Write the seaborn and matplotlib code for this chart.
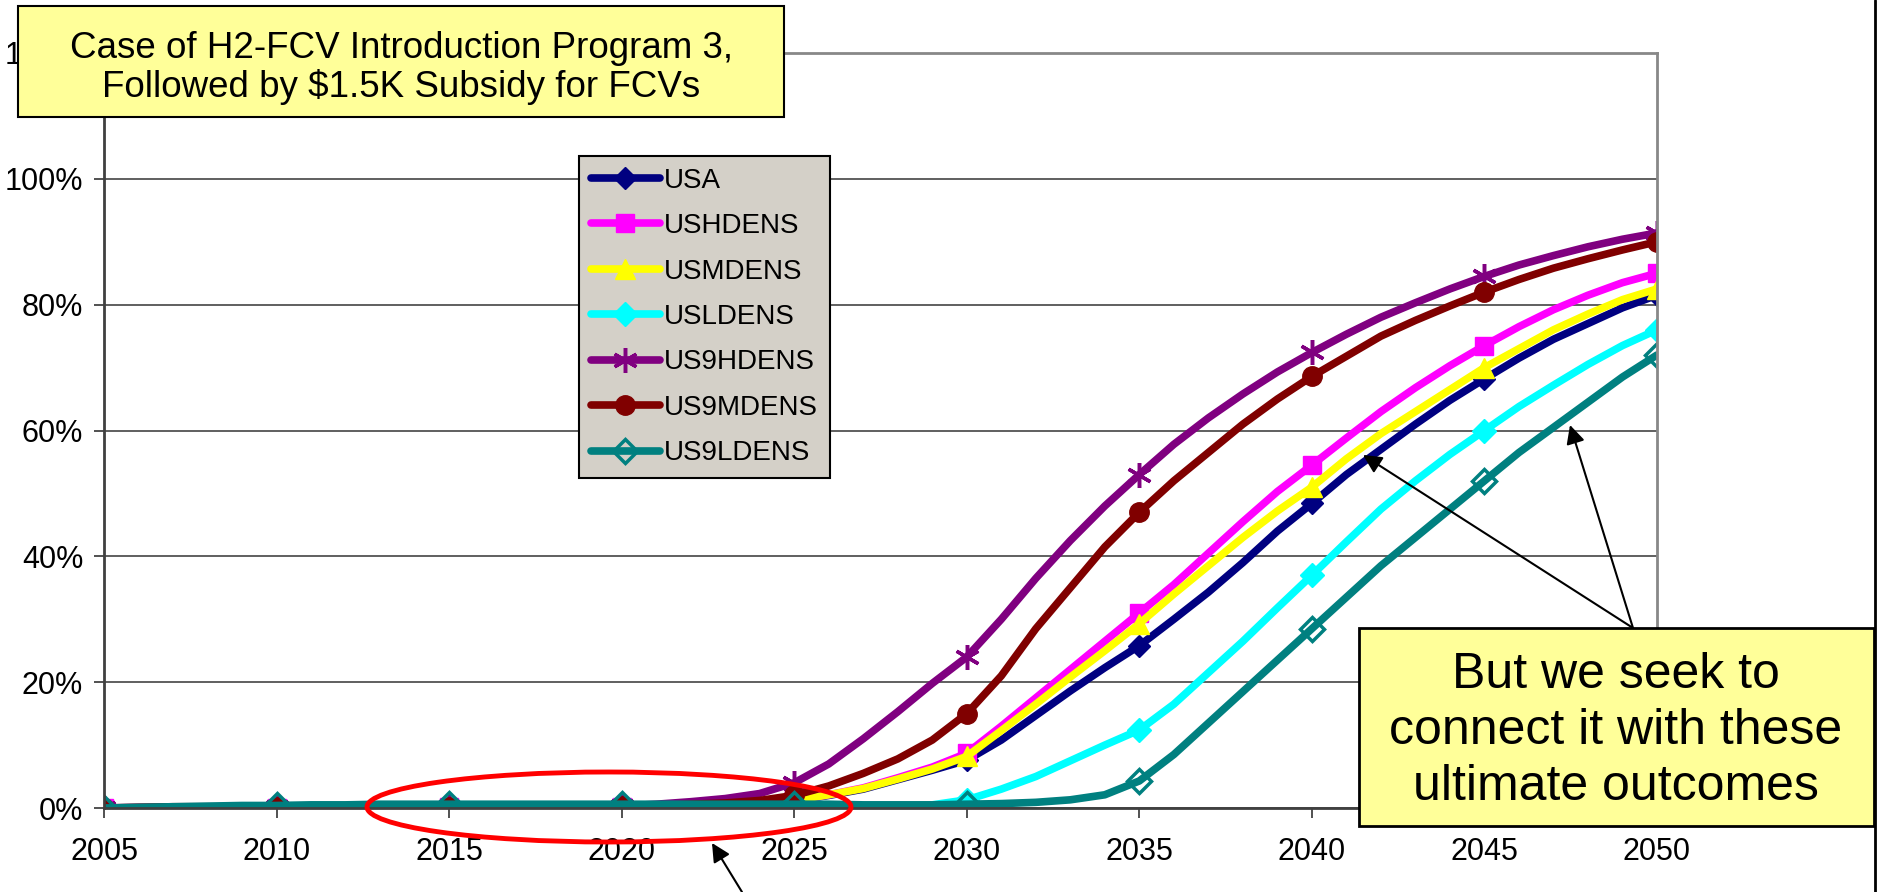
import numpy as np
import pandas as pd
import seaborn as sns
import matplotlib.pyplot as plt
import matplotlib.ticker as ticker
from matplotlib.patches import Rectangle, Ellipse, FancyArrowPatch
from matplotlib.lines import Line2D

# market share of FCVs (%) by year
years = list(range(2005, 2051))

usa = [0, 0, 0, 0, 0, 0, 0, 0.05, 0.1, 0.1, 0.1, 0.1, 0.1, 0.1, 0.1,
       0.1, 0.2, 0.3, 0.5, 0.8, 1.2, 2.0, 3.0, 4.5, 6.0,
       7.6, 10.8, 14.7, 18.6, 22.3, 25.8, 30.0, 34.3, 39.0, 44.0,
       48.4, 53.0, 57.0, 61.0, 64.8, 68.2, 71.5, 74.5, 77.0, 79.5, 81.5]
ushdens = [0, 0, 0, 0, 0, 0, 0, 0.05, 0.1, 0.1, 0.1, 0.1, 0.1, 0.1, 0.1,
           0.1, 0.2, 0.3, 0.5, 0.8, 1.2, 2.1, 3.2, 4.8, 6.5,
           8.7, 13.0, 17.5, 22.0, 26.5, 31.0, 35.5, 40.5, 45.5, 50.3,
           54.5, 58.8, 63.0, 66.8, 70.3, 73.5, 76.5, 79.2, 81.5, 83.5, 85.0]
usmdens = [0, 0, 0, 0, 0, 0, 0, 0.05, 0.1, 0.1, 0.1, 0.1, 0.1, 0.1, 0.1,
           0.1, 0.2, 0.3, 0.5, 0.8, 1.2, 2.1, 3.1, 4.6, 6.2,
           8.2, 12.3, 16.5, 20.8, 25.0, 29.3, 34.0, 38.5, 43.0, 47.2,
           51.0, 55.5, 59.5, 63.0, 66.5, 70.0, 73.0, 76.0, 78.5, 80.8, 82.5]
usldens = [0, 0, 0, 0, 0, 0, 0, 0, 0, 0, 0, 0, 0, 0, 0,
           0, 0, 0, 0, 0.1, 0.2, 0.1, 0.1, 0.2, 0.5,
           1.3, 3.0, 5.0, 7.5, 10.0, 12.4, 16.5, 21.5, 26.5, 31.8,
           37.0, 42.3, 47.5, 52.0, 56.2, 60.0, 63.8, 67.2, 70.5, 73.5, 76.0]
us9hdens = [0, 0.1, 0.1, 0.1, 0.1, 0.1, 0.1, 0.1, 0.1, 0.1, 0.1, 0.0, -0.2, -0.2, 0.0,
            0.3, 0.6, 1.0, 1.5, 2.3, 4.0, 7.0, 11.0, 15.3, 19.8,
            24.0, 30.0, 36.5, 42.5, 48.0, 53.0, 57.8, 62.0, 65.8, 69.3,
            72.4, 75.3, 78.0, 80.3, 82.5, 84.5, 86.3, 87.8, 89.2, 90.4, 91.4]
us9mdens = [0, 0.1, 0.2, 0.2, 0.2, 0.2, 0.2, 0.2, 0.2, 0.2, 0.2, 0.2, 0.2, 0.2, 0.2,
            0.3, 0.4, 0.6, 0.8, 1.2, 2.0, 3.5, 5.5, 7.8, 10.8,
            15.0, 21.0, 28.5, 35.0, 41.5, 47.0, 52.0, 56.5, 61.0, 65.0,
            68.6, 71.8, 75.0, 77.5, 79.8, 82.0, 84.0, 85.8, 87.3, 88.7, 90.0]
us9ldens = [0, 0.1, 0.2, 0.3, 0.4, 0.4, 0.5, 0.5, 0.6, 0.6, 0.6, 0.6, 0.6, 0.6, 0.6,
            0.6, 0.6, 0.6, 0.6, 0.6, 0.6, 0.6, 0.5, 0.5, 0.5,
            0.6, 0.7, 0.9, 1.3, 2.1, 4.3, 8.5, 13.5, 18.5, 23.5,
            28.5, 33.5, 38.5, 43.0, 47.5, 52.0, 56.5, 60.5, 64.5, 68.5, 72.0]

series = ['USA', 'USHDENS', 'USMDENS', 'USLDENS', 'US9HDENS', 'US9MDENS', 'US9LDENS']
values = [usa, ushdens, usmdens, usldens, us9hdens, us9mdens, us9ldens]
colors = ['#000080', '#ff00ff', '#ffff00', '#00ffff', '#800080', '#800000', '#008080']
markers = ['D', 's', '^', 'D', (6, 2, 0), 'o', 'D']
msizes = [11, 13, 14, 12, 18, 14, 12]

sns.set_style('white')
plt.rcParams['font.family'] = ['Liberation Sans', 'DejaVu Sans']
plt.rcParams['text.color'] = 'black'
plt.rcParams['xtick.labelcolor'] = 'black'
plt.rcParams['ytick.labelcolor'] = 'black'

W, H = 1877, 892
fig = plt.figure(figsize=(W / 100, H / 100), dpi=100)


def fx(px):
    return px / W


def fy(py):
    return 1 - py / H


ax = fig.add_axes([fx(104), fy(808), fx(1657) - fx(104), fy(53) - fy(808)])

for name, vals, c, m, ms in zip(series, values, colors, markers, msizes):
    face = 'none' if name == 'US9LDENS' else c
    mew = 2.5 if name in ('US9HDENS', 'US9LDENS') else 1
    sns.lineplot(x=years, y=vals, ax=ax, color=c, linewidth=5.5, label=name,
                 marker=m, markevery=5, markersize=ms, markerfacecolor=face,
                 markeredgecolor=c, markeredgewidth=mew)

ax.set_xlim(2005, 2050)
ax.set_ylim(0, 120)
ax.set_xticks(range(2005, 2051, 5))
ax.set_yticks(range(0, 121, 20))
ax.yaxis.set_major_formatter(ticker.PercentFormatter(xmax=100, decimals=0))
ax.set_xlabel('')
ax.set_ylabel('')
ax.grid(axis='y', color='#444444', linewidth=1.2)
ax.grid(axis='x', visible=False)
ax.tick_params(axis='both', labelsize=22, direction='out', length=7, width=1.2,
               color='#333333', labelcolor='black', left=True, bottom=True)
ax.tick_params(axis='y', pad=8)
ax.tick_params(axis='x', pad=14)
for s in ['left', 'bottom']:
    ax.spines[s].set_color('#404040')
    ax.spines[s].set_linewidth(2)
for s in ['top', 'right']:
    ax.spines[s].set_color('#888888')
    ax.spines[s].set_linewidth(2)

handles, labels = ax.get_legend_handles_labels()
leg = ax.legend(handles, labels, loc='upper left',
                bbox_to_anchor=(fx(579), fy(156)), bbox_transform=fig.transFigure,
                fontsize=20, frameon=True, fancybox=False, framealpha=1,
                facecolor='#d4d0c8', edgecolor='black', handlelength=2.5,
                handletextpad=0.15, labelspacing=0.7, borderpad=0.42,
                borderaxespad=0, labelcolor='black')
leg.get_frame().set_linewidth(1.5)

# red ellipse around the early years
fig.add_artist(Ellipse((fx(609), fy(807)), fx(484), 70 / H, transform=fig.transFigure,
                       fill=False, edgecolor='#ff0000', linewidth=3.5, zorder=5))

# title box (hides the 120% tick label, as in the original)
fig.add_artist(Rectangle((fx(18), fy(117)), fx(784) - fx(18), fy(6) - fy(117),
                         transform=fig.transFigure, facecolor='#ffff99',
                         edgecolor='black', linewidth=1.5, zorder=6))
fig.text(fx(401), fy(68), 'Case of H2-FCV Introduction Program 3,\nFollowed by $1.5K Subsidy for FCVs',
         ha='center', va='center', fontsize=26.5, linespacing=1.12, zorder=7)

# comment box
fig.add_artist(Rectangle((fx(1359), fy(826)), fx(1874) - fx(1359), fy(628) - fy(826),
                         transform=fig.transFigure, facecolor='#ffff99',
                         edgecolor='black', linewidth=2, zorder=6))
fig.text(fx(1616), fy(731), 'But we seek to\nconnect it with these\nultimate outcomes',
         ha='center', va='center', fontsize=36, linespacing=1.28, zorder=7)

# arrows
for tail, tip in [((1633, 628), (1363, 455)), ((1633, 628), (1570, 425)),
                  ((742, 892), (712, 843))]:
    fig.add_artist(FancyArrowPatch((fx(tail[0]), fy(tail[1])), (fx(tip[0]), fy(tip[1])),
                                   transform=fig.transFigure, arrowstyle='-|>',
                                   mutation_scale=28, linewidth=1.5, color='black',
                                   shrinkA=0, shrinkB=0, zorder=8))

# right frame edge
fig.add_artist(Line2D([fx(1875), fx(1875)], [0, 1], transform=fig.transFigure,
                      color='black', linewidth=2))

fig.savefig('out.png', dpi=100)
